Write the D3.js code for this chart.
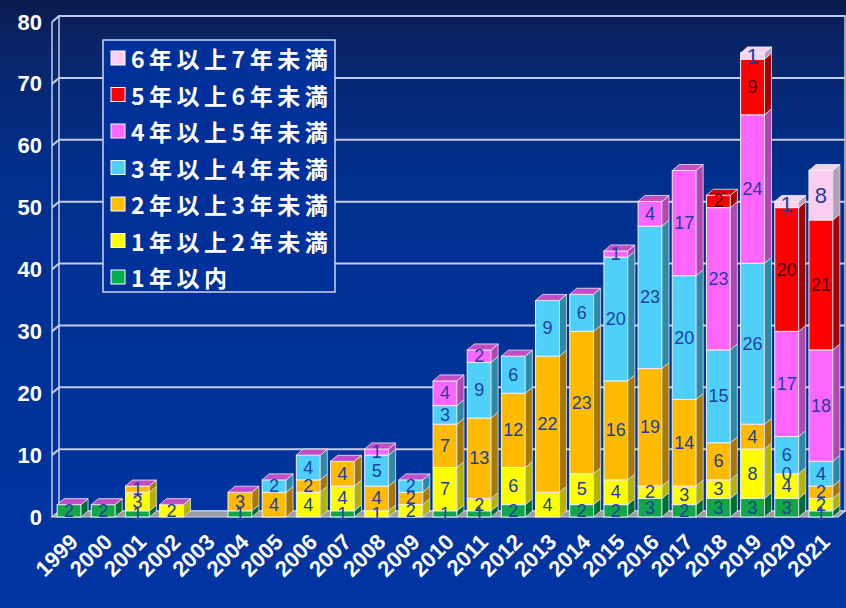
<!DOCTYPE html>
<html><head><meta charset="utf-8">
<script src="https://cdn.jsdelivr.net/npm/d3@7"></script>
<style>html,body{margin:0;padding:0;background:#0033a0;}svg{display:block;}</style>
</head><body>
<svg id="chart" width="846" height="608"></svg>
<script>
// ---- data ----
const years = ["1999","2000","2001","2002","2003","2004","2005","2006","2007","2008","2009","2010","2011","2012","2013","2014","2015","2016","2017","2018","2019","2020","2021"];
const seriesNames = ["1年以内","1年以上2年未満","2年以上3年未満","3年以上4年未満","4年以上5年未満","5年以上6年未満","6年以上7年未満"];
const s1 = [2,2,1,null,null,1,null,null,1,null,null,1,1,2,null,2,2,3,2,3,3,3,1];
const s2 = [null,null,3,2,null,null,null,4,4,1,2,7,2,6,4,5,4,2,3,3,8,4,2];
const s3 = [null,null,1,null,null,3,4,2,4,4,2,7,13,12,22,23,16,19,14,6,4,0,2];
const s4 = [null,null,null,null,null,null,2,4,null,5,2,3,9,6,9,6,20,23,20,15,26,6,4];
const s5 = [null,null,null,null,null,null,null,null,null,1,null,4,2,null,null,null,1,4,17,23,24,17,18];
const s6 = [null,null,null,null,null,null,null,null,null,null,null,null,null,null,null,null,null,null,null,2,9,20,21];
const s7 = [null,null,null,null,null,null,null,null,null,null,null,null,null,null,null,null,null,null,null,null,1,1,8];
const seriesValues = [s1,s2,s3,s4,s5,s6,s7];
const yTicks = [0,10,20,30,40,50,60,70,80];

// ---- styles ----
const frontCol = ["#12a64a","#ffff00","#ffbb00","#4fd0fb","#ff66ff","#ff0000","#ffccf2"];
const sideCol  = ["#007030","#b4b400","#a87800","#2c8aa6","#b048b0","#a80000","#b89cb2"];
const topCol   = ["#0c8a3c","#d8d800","#d89c00","#3cb0d8","#c44cc4","#c80000","#f0d4ec"];
const legendCol= ["#00b050","#ffff00","#ffc000","#4fd0fb","#ff66ff","#ff0000","#ffccf2"];

const svg = d3.select("#chart");
const W = 846, H = 608;
const dX = 7, dY = 6;

const defs = svg.append("defs");
const bg = defs.append("linearGradient").attr("id","bg").attr("x1",0).attr("y1",0).attr("x2",0).attr("y2",1);
bg.append("stop").attr("offset","0").attr("stop-color","#0b1a4c");
bg.append("stop").attr("offset","0.07").attr("stop-color","#0a2468");
bg.append("stop").attr("offset","0.3").attr("stop-color","#00308e");
bg.append("stop").attr("offset","1").attr("stop-color","#0035a4");
svg.append("rect").attr("width",W).attr("height",H).attr("fill","url(#bg)");

const x = d3.scaleBand().domain(years).range([52, 838]).paddingInner(0.3).paddingOuter(0.15);
const y = d3.scaleLinear().domain([0, 80]).range([517, 22]);

const wallCol = "#c4cbe6";
svg.append("rect").attr("x", 52 + dX).attr("y", y(80) - dY).attr("width", 845 - 52 - dX).attr("height", y(0) - y(80))
  .attr("fill", "none").attr("stroke", wallCol).attr("stroke-width", 1.5);
svg.append("line").attr("x1",52).attr("x2",52).attr("y1",y(0)).attr("y2",y(80)).attr("stroke",wallCol).attr("stroke-width",1.5);
yTicks.forEach(v => {
  if (v === 0) return;
  svg.append("path").attr("d", `M52,${y(v)} L${52+dX},${y(v)-dY} L845,${y(v)-dY}`)
    .attr("fill","none").attr("stroke", wallCol).attr("stroke-width", 2);
});
svg.append("path").attr("d", `M52,${y(0)} L838,${y(0)} L845,${y(0)-dY} L${52+dX},${y(0)-dY} Z`)
  .attr("fill","#9c9ca4").attr("stroke","#d4d8e8").attr("stroke-width",1.2);

// y labels
svg.append("g").selectAll("text").data(yTicks).join("text")
  .attr("x", 42).attr("y", d => y(d)).attr("text-anchor","end").attr("dominant-baseline","central")
  .attr("fill","#ffffff").attr("font-family","Liberation Sans, Arial, sans-serif").attr("font-weight","bold")
  .attr("font-size", 22).text(d => d);

// x labels
svg.append("g").selectAll("text").data(years).join("text")
  .attr("transform", d => `translate(${x(d) + x.bandwidth()/2 + 5},${538}) rotate(-45)`)
  .attr("text-anchor","end").attr("dominant-baseline","central")
  .attr("fill","#ffffff").attr("font-family","Liberation Sans, Arial, sans-serif").attr("font-weight","bold")
  .attr("font-size", 22).text(d => d);

// bars
const bw = x.bandwidth();
const bars = svg.append("g");
const labels = [];
years.forEach((yr, i) => {
  let cum = 0;
  let topIdx = -1;
  const g = bars.append("g");
  seriesValues.forEach((arr, k) => {
    const v = arr[i];
    if (v === null) return;
    const y0 = y(cum), y1 = y(cum + v);
    const x0 = x(yr);
    if (v > 0) {
      topIdx = k;
      g.append("rect").attr("x", x0).attr("y", y1).attr("width", bw).attr("height", y0 - y1)
        .attr("fill", frontCol[k]).attr("stroke", "#eef0f6").attr("stroke-width", 1);
      g.append("path").attr("d", `M${x0+bw},${y1} L${x0+bw+dX},${y1-dY} L${x0+bw+dX},${y0-dY} L${x0+bw},${y0} Z`)
        .attr("fill", sideCol[k]).attr("stroke", "#dfe2ec").attr("stroke-width", 0.8);
    }
    labels.push({x: x0 + bw/2, y: (y0 + y1)/2, v: v, k: k});
    cum += v;
  });
  if (cum > 0) {
    const t = Math.max(4, topIdx);
    const x0 = x(yr), yt = y(cum);
    g.append("path").attr("d", `M${x0},${yt} L${x0+dX},${yt-dY} L${x0+bw+dX},${yt-dY} L${x0+bw},${yt} Z`)
      .attr("fill", topCol[t]).attr("stroke", "#eef0f6").attr("stroke-width", 0.8);
  }
});
svg.append("g").selectAll("text").data(labels).join("text")
  .attr("x", d => d.x).attr("y", d => d.y)
  .attr("text-anchor","middle").attr("dominant-baseline","central")
  .attr("font-family","Liberation Sans, Arial, sans-serif")
  .attr("font-size", d => d.k === 6 ? 22 : 18)
  .attr("fill", d => d.k === 5 ? "#4a0012" : "#21409e")
  .text(d => d.v);

// legend
const lg = svg.append("g");
lg.append("rect").attr("x",103).attr("y",40).attr("width",232).attr("height",252)
  .attr("fill","#00309a").attr("stroke","#cdd3ee").attr("stroke-width",1.5);
const order = d3.range(seriesNames.length).reverse();
order.forEach((k, j) => {
  const cy = 58 + j * 36.5;
  lg.append("rect").attr("x",111).attr("y",cy-7).attr("width",14).attr("height",14)
    .attr("fill", legendCol[k]).attr("stroke","#ffffff").attr("stroke-width",1);
  lg.append("text").attr("x",131).attr("y",cy).attr("dominant-baseline","central")
    .attr("fill","#ffffff").attr("font-family","Noto Sans CJK JP, sans-serif").attr("font-weight","bold")
    .attr("font-size",23).attr("letter-spacing",4.5).text(seriesNames[k]);
});
</script>
</body></html>
